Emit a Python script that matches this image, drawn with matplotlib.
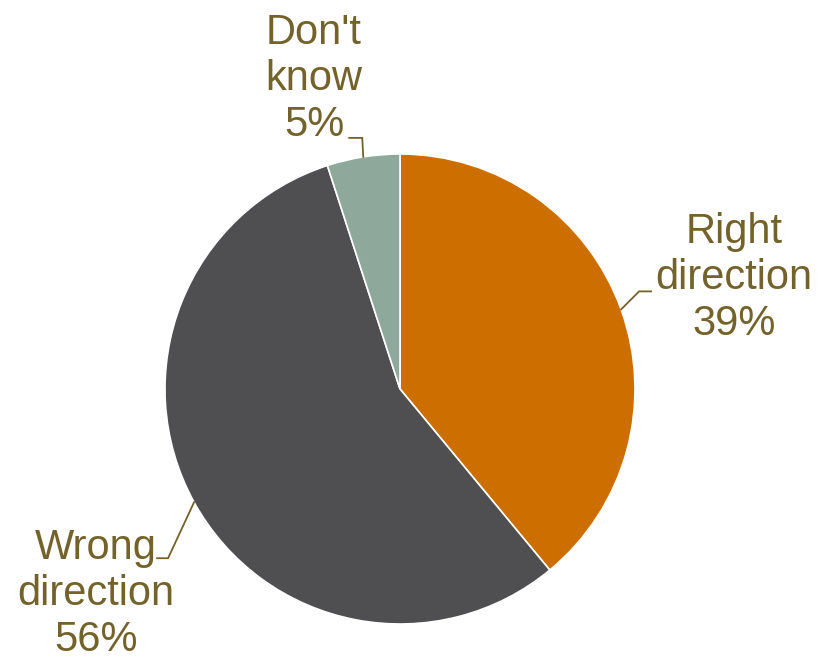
import matplotlib

matplotlib.use("Agg")
import matplotlib.pyplot as plt
import numpy as np

labels = ["Right\ndirection", "Wrong\ndirection", "Don't\nknow"]
shares = [39, 56, 5]
colors = ["#CC6F00", "#4F4F51", "#8FA89C"]

TEXT = "#73632A"

W, H = 819, 659
fig = plt.figure(figsize=(W / 100, H / 100), dpi=100)
ax = fig.add_axes([0, 0, 1, 1])

wedges, _ = ax.pie(
    shares,
    colors=colors,
    startangle=90,
    counterclock=False,
    center=(400, H - 389),
    radius=235,
    wedgeprops=dict(edgecolor="white", linewidth=1.2),
    frame=True,
)
ax.set_xlim(0, W)
ax.set_ylim(0, H)
ax.axis("off")

# label centres (px) and leader elbow offsets from the wedge edge
label_pos = [(734, H - 278), (96, H - 594), (314, H - 79)]
elbows = [
    [(18, 18), (30, 18)],
    [(-26, -56), (-37, -56)],
    [(-1, 19), (-14, 19)],
]

for w, lab, pct, pos, elb in zip(wedges, labels, shares, label_pos, elbows):
    ang = np.deg2rad((w.theta1 + w.theta2) / 2)
    cx, cy = w.center
    x0 = cx + w.r * np.cos(ang)
    y0 = cy + w.r * np.sin(ang)
    xs = [x0] + [x0 + dx for dx, dy in elb]
    ys = [y0] + [y0 + dy for dx, dy in elb]
    ax.plot(xs, ys, color=TEXT, lw=1.3, solid_joinstyle="miter")
    ax.text(
        pos[0], pos[1], f"{lab}\n{pct}%",
        ha="center", va="center", fontsize=30, color=TEXT,
        family="Liberation Sans", linespacing=1.2,
    )

fig.savefig("out.png", dpi=100)
